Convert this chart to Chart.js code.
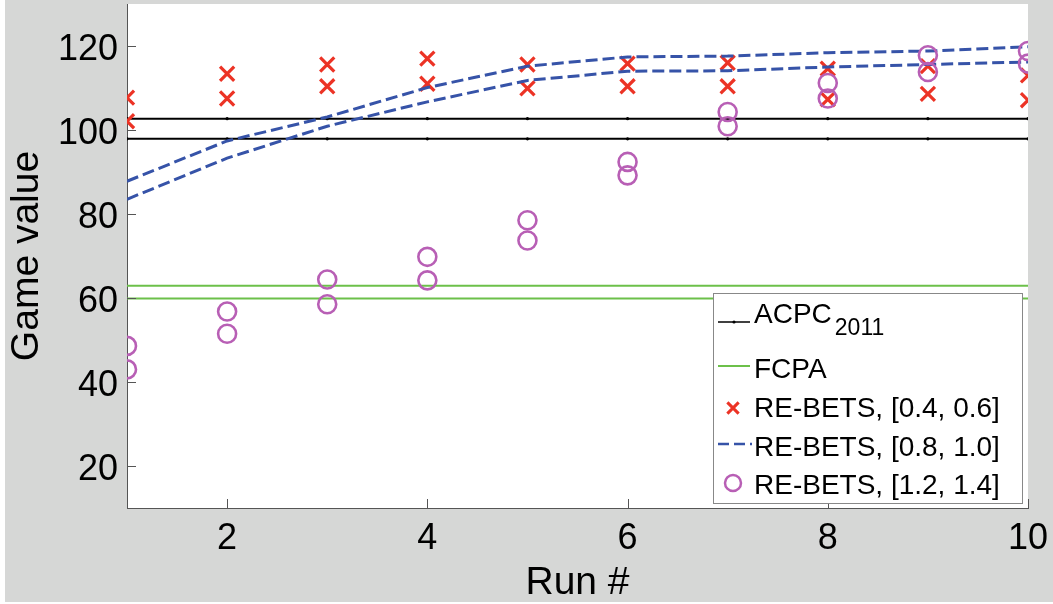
<!DOCTYPE html>
<html>
<head>
<meta charset="utf-8">
<script src="https://cdn.jsdelivr.net/npm/chart.js@4.4.1/dist/chart.umd.min.js"></script>
<style>
  html, body { margin: 0; padding: 0; background: #fff; }
  #wrap { position: relative; width: 1053px; height: 604px; }
</style>
</head>
<body>
<div id="wrap"><canvas id="gameChart" width="1053" height="604"></canvas></div>
<script>
// runs on the x axis and the axis ticks
var runs = [1, 2, 3, 4, 5, 6, 7, 8, 9, 10];
var xTicks = [2, 4, 6, 8, 10];
var yTicks = [20, 40, 60, 80, 100, 120];

// baselines (two bounds each)
var acpcHigh = [102.7, 102.7, 102.7, 102.7, 102.7, 102.7, 102.7, 102.7, 102.7, 102.7];
var acpcLow = [97.9, 97.9, 97.9, 97.9, 97.9, 97.9, 97.9, 97.9, 97.9, 97.9];
var fcpaHigh = [62.9, 62.9, 62.9, 62.9, 62.9, 62.9, 62.9, 62.9, 62.9, 62.9];
var fcpaLow = [59.9, 59.9, 59.9, 59.9, 59.9, 59.9, 59.9, 59.9, 59.9, 59.9];

// RE-BETS runs, upper and lower bound per bet range
var bets46High = [107.7, 113.4, 115.6, 117.0, 115.6, 115.8, 116.0, 114.6, 115.2, 113.0];
var bets46Low = [102.1, 107.5, 110.4, 111.0, 109.9, 110.4, 110.4, 107.3, 108.6, 107.1];
var bets810High = [87.8, 97.4, 103.1, 110.1, 115.2, 117.4, 117.6, 118.4, 118.8, 119.8];
var bets810Low = [83.5, 93.3, 100.9, 106.7, 111.8, 114.0, 114.1, 115.0, 115.6, 116.2];
var bets1214High = [48.6, 56.8, 64.4, 69.8, 78.5, 92.4, 104.3, 111.2, 117.8, 118.8];
var bets1214Low = [43.0, 51.5, 58.5, 64.2, 73.7, 89.2, 100.9, 107.5, 113.8, 115.8];

var legendLabels = ['ACPC', 'FCPA', 'RE-BETS, [0.4, 0.6]', 'RE-BETS, [0.8, 1.0]', 'RE-BETS, [1.2, 1.4]'];

var FONT = '"Liberation Sans", Arial, Helvetica, sans-serif';
var BLACK = '#000000';
var GREEN = '#6cc04a';
var RED = '#ec3325';
var BLUE = '#3653a8';
var PURPLE = '#b85fb5';

function pts(vals) {
    return runs.map(function (r, i) { return { x: r, y: vals[i] }; });
}

function acpcSet(vals) {
    return { data: pts(vals), borderColor: BLACK, backgroundColor: BLACK, borderWidth: 2,
             pointRadius: 1.6, pointBorderWidth: 0, order: 5 };
}
function fcpaSet(vals) {
    return { data: pts(vals), borderColor: GREEN, borderWidth: 2, pointRadius: 0, order: 4 };
}
function crossSet(vals) {
    return { data: pts(vals), showLine: false, pointStyle: 'crossRot', pointRadius: 10,
             pointBorderWidth: 3.2, borderColor: RED, backgroundColor: RED, order: 3 };
}
function dashSet(vals) {
    return { data: pts(vals), borderColor: BLUE, borderWidth: 3, borderDash: [12, 5],
             pointRadius: 0, order: 2 };
}
function circleSet(vals) {
    return { data: pts(vals), showLine: false, pointStyle: 'circle', pointRadius: 9,
             pointBorderWidth: 2.6, borderColor: PURPLE, backgroundColor: 'rgba(0,0,0,0)', order: 1 };
}

// gray figure, white axes box
var backdrop = {
    id: 'backdrop',
    beforeDraw: function (chart) {
        var c = chart.ctx, a = chart.chartArea;
        c.save();
        c.fillStyle = '#d6d7d6';
        c.fillRect(5, 0, 1048, 602);
        c.fillStyle = '#ffffff';
        c.fillRect(a.left, a.top, a.right - a.left, a.bottom - a.top);
        c.restore();
    }
};

// short tick marks pointing into the plot
var innerTicks = {
    id: 'innerTicks',
    afterDraw: function (chart) {
        var c = chart.ctx, a = chart.chartArea;
        var xs = chart.scales.x, ys = chart.scales.y;
        c.save();
        c.strokeStyle = '#555';
        c.lineWidth = 1;
        c.beginPath();
        xTicks.forEach(function (v) {
            var px = Math.round(xs.getPixelForValue(v)) + 0.5;
            c.moveTo(px, a.bottom);
            c.lineTo(px, a.bottom - 9);
        });
        yTicks.forEach(function (v) {
            var py = Math.round(ys.getPixelForValue(v)) + 0.5;
            c.moveTo(a.left, py);
            c.lineTo(a.left + 9, py);
        });
        c.stroke();
        c.restore();
    }
};

// boxed legend with the ACPC subscript
var boxLegend = {
    id: 'boxLegend',
    afterDraw: function (chart) {
        var c = chart.ctx;
        var ds = chart.data.datasets;
        var bx = 713, by = 293, bw = 309, bh = 210;
        var x0 = 718, x1 = 750, tx = 754;
        c.save();
        c.fillStyle = '#ffffff';
        c.fillRect(bx, by, bw, bh);
        c.strokeStyle = '#888888';
        c.lineWidth = 1;
        c.strokeRect(bx + 0.5, by + 0.5, bw, bh);

        c.fillStyle = '#000';
        c.textAlign = 'left';
        c.textBaseline = 'alphabetic';
        c.font = '28px ' + FONT;

        // ACPC
        c.strokeStyle = ds[0].borderColor;
        c.lineWidth = 1.5;
        c.beginPath(); c.moveTo(x0, 322); c.lineTo(x1, 322); c.stroke();
        Chart.helpers.drawPoint(c, { pointStyle: 'circle', radius: 1.6, borderWidth: 0 }, (x0 + x1) / 2, 322);
        c.fillStyle = '#000';
        c.fillText(legendLabels[0], tx, 323);
        var w = c.measureText(legendLabels[0]).width;
        c.font = '23px ' + FONT;
        c.fillText('2011', tx + w + 3, 335);
        c.font = '28px ' + FONT;

        // FCPA
        c.strokeStyle = ds[2].borderColor;
        c.lineWidth = 2;
        c.beginPath(); c.moveTo(x0, 366); c.lineTo(x1, 366); c.stroke();
        c.fillText(legendLabels[1], tx, 378);

        // crosses
        c.strokeStyle = ds[4].borderColor;
        c.lineWidth = 3;
        Chart.helpers.drawPoint(c, { pointStyle: 'crossRot', radius: 8, borderWidth: 3 }, 733, 408);
        c.fillText(legendLabels[2], tx, 417);

        // dashed
        c.strokeStyle = ds[6].borderColor;
        c.lineWidth = 2.6;
        c.setLineDash([11, 5]);
        c.beginPath(); c.moveTo(x0, 444); c.lineTo(x1 + 2, 444); c.stroke();
        c.setLineDash([]);
        c.fillText(legendLabels[3], tx, 456);

        // circles
        c.strokeStyle = ds[8].borderColor;
        c.lineWidth = 2.5;
        c.beginPath(); c.arc(733, 483, 8, 0, Math.PI * 2); c.stroke();
        c.fillText(legendLabels[4], tx, 494);
        c.restore();
    }
};

var ctx = document.getElementById('gameChart').getContext('2d');
var gameChart = new Chart(ctx, {
    type: 'line',
    data: {
        datasets: [
            acpcSet(acpcHigh), acpcSet(acpcLow),
            fcpaSet(fcpaHigh), fcpaSet(fcpaLow),
            crossSet(bets46High), crossSet(bets46Low),
            dashSet(bets810High), dashSet(bets810Low),
            circleSet(bets1214High), circleSet(bets1214Low)
        ]
    },
    options: {
        responsive: false,
        animation: false,
        devicePixelRatio: 1,
        layout: { autoPadding: false, padding: { top: 4, right: 25, left: 0, bottom: 0 } },
        elements: { line: { tension: 0 } },
        plugins: { legend: { display: false }, tooltip: { enabled: false } },
        scales: {
            x: {
                type: 'linear',
                min: 1,
                max: 10,
                afterBuildTicks: function (s) { s.ticks = xTicks.map(function (v) { return { value: v }; }); },
                afterFit: function (s) { s.height = 96; s.paddingLeft = 0; s.paddingRight = 0; },
                grid: { drawOnChartArea: false, drawTicks: false },
                border: { color: '#555', width: 1 },
                ticks: { color: '#000', font: { family: FONT, size: 36 }, padding: 9, maxRotation: 0, autoSkip: false },
                title: { display: true, text: 'Run #', color: '#000', font: { family: FONT, size: 39 }, padding: { top: 0, bottom: -3 } }
            },
            y: {
                min: 10,
                max: 130,
                afterBuildTicks: function (s) { s.ticks = yTicks.map(function (v) { return { value: v }; }); },
                afterFit: function (s) { s.width = 127; s.paddingTop = 0; s.paddingBottom = 0; },
                grid: { drawOnChartArea: false, drawTicks: false },
                border: { color: '#555', width: 1 },
                ticks: { color: '#000', font: { family: FONT, size: 36 }, padding: 9, labelOffset: 4 },
                title: { display: true, text: 'Game value', color: '#000', font: { family: FONT, size: 39 }, padding: { top: 4, bottom: 0 } }
            }
        }
    },
    plugins: [backdrop, innerTicks, boxLegend]
});
</script>
</body>
</html>
